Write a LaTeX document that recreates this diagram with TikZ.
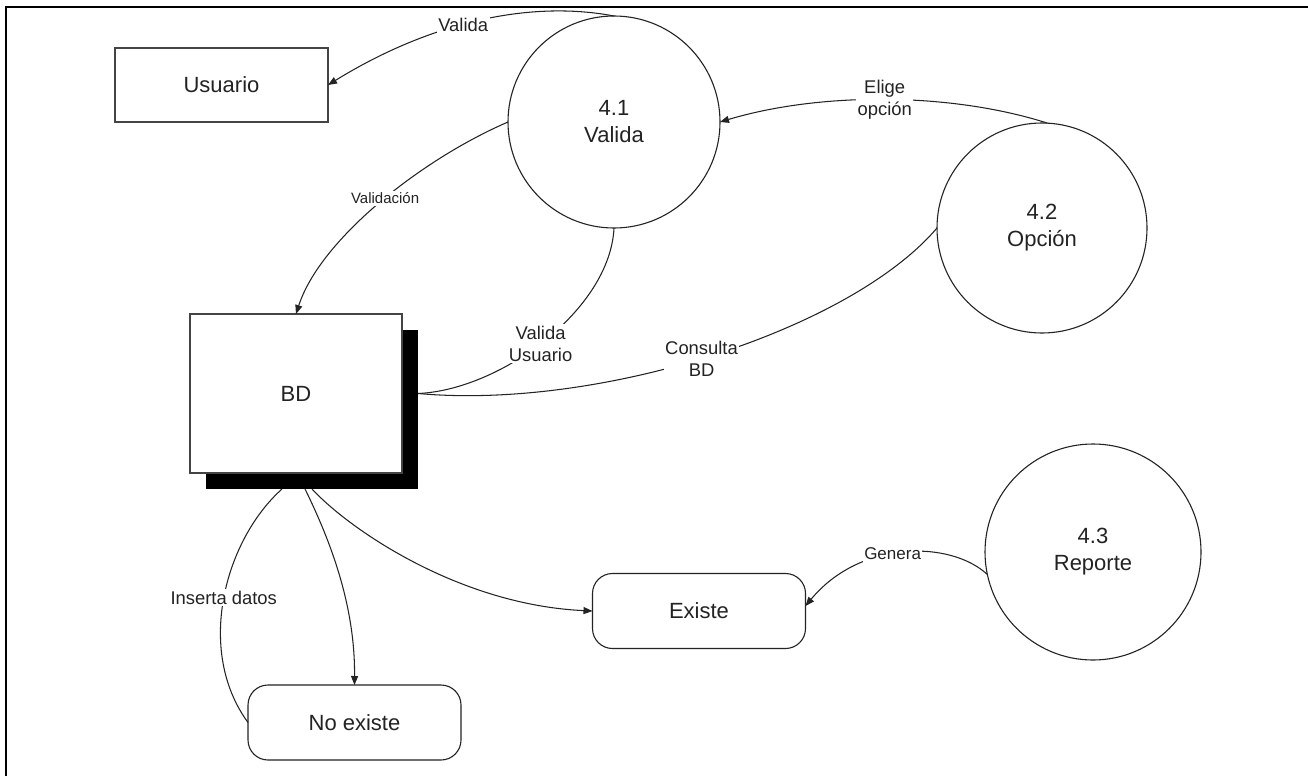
\documentclass[tikz,border=0pt]{standalone}
\usepackage{fontspec}
\setmainfont{Liberation Sans}
\usetikzlibrary{arrows.meta}
\definecolor{ink}{RGB}{35,35,35}
\begin{document}
\begin{tikzpicture}[x=1pt,y=-1pt,
  procbubble/.style={circle,draw=ink,line width=1.1pt,minimum size=#1,inner sep=0pt,outer sep=0pt,align=center,font=\fontsize{22}{27}\selectfont,text=ink},
  entbox/.style={rectangle,draw=ink!85,line width=1.3pt,minimum width=213pt,minimum height=74pt,inner sep=0pt,outer sep=0pt,font=\fontsize{22}{27}\selectfont,text=ink},
  statebox/.style={rectangle,rounded corners=20pt,draw=ink,line width=1.1pt,minimum width=213pt,minimum height=75pt,inner sep=0pt,outer sep=0pt,font=\fontsize{22}{27}\selectfont,text=ink},
  flow/.style={draw=ink,line width=1.05pt},
  flowarrow/.style={flow,-{Triangle[length=9pt,width=7pt]}},
  lbl/.style={fill=white,inner sep=1.5pt,align=center,font=\fontsize{18.4}{22.5}\selectfont,text=ink},
  lblsmall/.style={lbl,font=\fontsize{15}{18}\selectfont},
  lblmid/.style={lbl,font=\fontsize{17}{20}\selectfont}]
\useasboundingbox (0,0) rectangle (1308,776);
\fill[white] (0,0) rectangle (1308,776);
% frame
\draw[line width=2pt,black] (1308,7) -- (6,7) -- (6,776);
% nodes
\node[entbox] (usr) at (221.5,85) {Usuario};
\node[procbubble=212pt] (c41) at (614,122) {4.1\\Valida};
\node[procbubble=210pt] (c42) at (1042,228) {4.2\\Opción};
\node[procbubble=216pt] (c43) at (1093,552) {4.3\\Reporte};
\node[rectangle,fill=black,minimum width=212pt,minimum height=159pt,inner sep=0pt,outer sep=0pt] (bdsh) at (312,409.5) {};
\node[entbox,fill=white,minimum width=212pt,minimum height=159pt] (bd) at (296,393.5) {BD};
\node[statebox] (ex) at (699,611) {Existe};
\node[statebox] (nex) at (354.5,722.5) {No existe};
% connectors
\draw[flowarrow] (c41.90) .. controls (530,0) and (430,22) .. (usr.east)
  node[lbl,pos=0.55] (lvalida) {Valida};
\draw[flowarrow] (c42.87) .. controls (950,92) and (820,92) .. (c41.0)
  node[lbl,pos=0.5] (lelige) {Elige\\opción};
\draw[flowarrow] (c41.180) .. controls (420,160) and (320,240) .. (bd.north)
  node[lblsmall,pos=0.47] (lvalidacion) {Validación};
\draw[flow] (c41.270) .. controls (610,310) and (500,390) .. ([xshift=16pt]bd.east)
  node[lbl,pos=0.52] (lvalusr) {Valida\\Usuario};
\draw[flow] (c42.180) .. controls (850,330) and (600,410) .. ([xshift=16pt]bd.east)
  node[lbl,pos=0.52] (lconsulta) {Consulta\\BD};
\draw[flow] ([xshift=-30pt]bdsh.south) .. controls (225,540) and (195,650) .. (nex.west)
  node[lbl,pos=0.5] (linserta) {Inserta datos};
\draw[flowarrow] ([xshift=-7pt]bdsh.south) .. controls (340,560) and (355,620) .. (nex.north);
\draw[flowarrow] (bdsh.south) .. controls (350,530) and (460,605) .. (ex.west);
\draw[flowarrow] (c43.192) .. controls (950,540) and (860,540) .. ([yshift=5pt]ex.east)
  node[lblmid,pos=0.55] (lgenera) {Genera};
\end{tikzpicture}
\end{document}
